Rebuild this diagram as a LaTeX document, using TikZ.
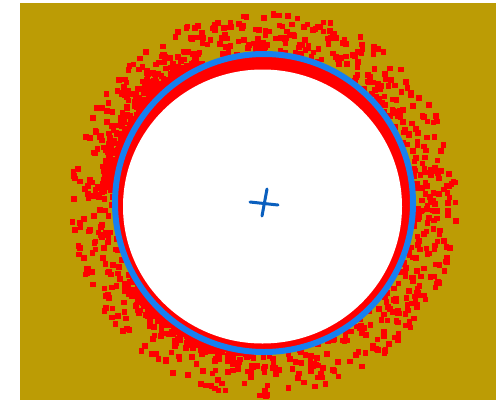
\documentclass[tikz,border=0pt]{standalone}
\usepackage{tikz}
\definecolor{plate}{RGB}{188,156,5}
\definecolor{ringblue}{RGB}{22,128,240}
\definecolor{markblue}{RGB}{10,95,190}

\begin{document}
\begin{tikzpicture}[x=1pt,y=-1pt,
  speck/.style={fill=red},
  ring/.style={draw=ringblue,line width=6pt},
  crossline/.style={draw=markblue,line width=3pt,line cap=round}]
  \useasboundingbox (0,0) rectangle (503,400);
  \fill[white] (0,0) rectangle (503,400);
  \fill[plate] (20,3) rectangle (496,400);
  \coordinate (c) at (264,203);
  % scattered specks round the ring
  \pgfmathsetseed{42}
  \foreach \i in {1,...,800}{
    \pgfmathsetmacro\a{360*rnd}
    \pgfmathsetmacro\r{151+42*pow(rnd,1.25)}
    \fill[speck,shift={(c)}] (\a:\r) ++(-2.8,-2.8) rectangle ++(5.6,5.6);
  }
  % dense patches, upper and lower left
  \foreach \i in {1,...,300}{
    \pgfmathsetmacro\a{185+60*rnd}
    \pgfmathsetmacro\r{150+22*rnd*rnd}
    \fill[speck,shift={(c)}] (\a:\r) ++(-2.8,-2.8) rectangle ++(5.6,5.6);
  }
  \foreach \i in {1,...,220}{
    \pgfmathsetmacro\a{95+55*rnd}
    \pgfmathsetmacro\r{150+16*rnd*rnd}
    \fill[speck,shift={(c)}] (\a:\r) ++(-2.8,-2.8) rectangle ++(5.6,5.6);
  }
  % red band and white disc
  \fill[red] (c) circle (150);
  \fill[white] (262.5,206.5) ellipse (139.5 and 137);
  \draw[ring] (c) circle (149);
  % centre mark
  \coordinate (h1) at (250,202);
  \coordinate (h2) at (278,205);
  \coordinate (v1) at (267,189);
  \coordinate (v2) at (262,216);
  \draw[crossline] (h1) -- (h2);
  \draw[crossline] (v1) -- (v2);
\end{tikzpicture}
\end{document}
